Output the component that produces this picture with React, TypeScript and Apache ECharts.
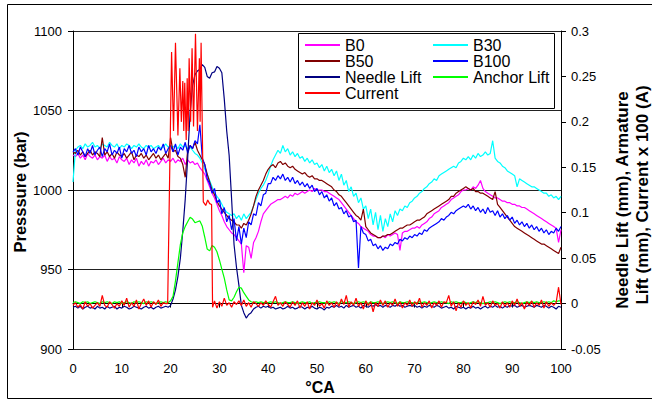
import React, { useEffect, useRef } from "react";
import * as echarts from "echarts";

// Crank angle step of the sampled series (°CA)
const STEP = 0.5;

// Pressure series (bar), one value every 0.5 °CA from 0 to 100
const b0 = [
  1022, 1021, 1023, 1020, 1022, 1019, 1023, 1021, 1020, 1022,
  1019, 1021, 1020, 1022, 1018, 1021, 1019, 1020, 1017, 1021,
  1019, 1018, 1020, 1016, 1019, 1017, 1020, 1015, 1018, 1016,
  1019, 1015, 1018, 1017, 1019, 1016, 1018, 1020, 1017, 1019,
  1018, 1020, 1017, 1019, 1018, 1020, 1016, 1019, 1017, 1018,
  1016, 1017, 1014, 1012, 1010, 1006, 1002, 998, 995, 991,
  987, 984, 980, 977, 975, 973, 972, 970, 968, 966,
  948, 965, 964, 957, 967, 970, 974, 980, 985, 987,
  989, 991, 992, 993, 994, 994, 995, 996, 995, 997,
  996, 998, 997, 998, 999, 998, 999, 1000, 999, 1001,
  1000, 1000, 1000, 999, 999, 998, 997, 996, 995, 994,
  992, 990, 988, 986, 984, 982, 980, 979, 977, 976,
  975, 974, 972, 971, 971, 970, 970, 971, 970, 972,
  971, 972, 973, 972, 962, 973, 974, 974, 975, 976,
  976, 977, 976, 978, 979, 980, 982, 983, 985, 986,
  987, 989, 990, 991, 992, 994, 995, 996, 997, 999,
  1000, 1000, 1001, 1000, 1002, 1001, 1003, 1006, 1001, 999,
  998, 997, 996, 995, 995, 994, 993, 993, 992, 992,
  991, 991, 990, 990, 989, 989, 988, 987, 986, 985,
  984, 983, 982, 981, 980, 979, 978, 977, 976, 967,
  975,
];

const b30 = [
  1005, 1025, 1027, 1028, 1026, 1029, 1027, 1028, 1030, 1027,
  1028, 1026, 1029, 1028, 1027, 1030, 1028, 1027, 1029, 1026,
  1028, 1027, 1029, 1028, 1026, 1028, 1027, 1029, 1027, 1026,
  1028, 1027, 1028, 1026, 1027, 1028, 1026, 1027, 1029, 1027,
  1028, 1027, 1028, 1026, 1029, 1027, 1028, 1026, 1027, 1025,
  1023, 1022, 1020, 1017, 1013, 1010, 1006, 1002, 998, 996,
  994, 991, 988, 986, 985, 984, 985, 982, 984, 981,
  985, 982, 984, 986, 990, 994, 998, 1001, 1003, 1006,
  1010, 1015, 1019, 1022, 1025, 1023, 1028, 1024, 1026, 1022,
  1024, 1021, 1023, 1020, 1021, 1018, 1020, 1017, 1019, 1016,
  1017, 1014, 1016, 1012, 1015, 1011, 1013, 1009, 1012, 1006,
  1010, 1003, 1006, 999, 1002, 996, 998, 992, 995, 988,
  990, 982, 988, 978, 986, 975, 984, 974, 982, 977,
  985, 980, 987, 984, 988, 987, 990, 989, 992, 993,
  995, 996, 998, 999, 1001, 1002, 1004, 1005, 1007, 1006,
  1009, 1010, 1011, 1012, 1013, 1014, 1015, 1014, 1017, 1018,
  1020, 1019, 1021, 1019, 1022, 1020, 1023, 1021, 1022, 1024,
  1022, 1023, 1031, 1020, 1018, 1017, 1015, 1014, 1012, 1011,
  1010, 1009, 1002, 1007, 1006, 1005, 1004, 1003, 1002, 1002,
  1001, 1000, 999, 998, 998, 996, 997, 995, 996, 994,
  996,
];

const b50 = [
  1024, 1023, 1025, 1022, 1024, 1021, 1023, 1025, 1022, 1024,
  1023, 1021, 1033, 1022, 1024, 1021, 1023, 1020, 1024, 1022,
  1021, 1023, 1020, 1022, 1024, 1019, 1022, 1021, 1023, 1020,
  1022, 1019, 1021, 1023, 1020, 1022, 1019, 1021, 1023, 1020,
  1033, 1024, 1025, 1021, 1020, 1016, 1008, 1025, 1028, 1026,
  1030, 1025, 1022, 1019, 1016, 1010, 1005, 1000, 997, 993,
  990, 988, 986, 984, 982, 981, 980, 978, 978, 976,
  979, 978, 981, 985, 990, 996, 1000, 1003, 1006, 1010,
  1013, 1015, 1016, 1014, 1017, 1018, 1016, 1017, 1015, 1014,
  1015, 1013, 1012, 1011, 1010, 1011, 1009, 1008, 1009, 1007,
  1007, 1006, 1006, 1005, 1004, 1003, 1002, 1000, 999, 997,
  996, 994, 992, 990, 988, 986, 984, 983, 981, 988,
  977, 975, 973, 972, 971, 970, 970, 971, 971, 972,
  972, 973, 974, 975, 976, 976, 977, 978, 978, 979,
  980, 981, 981, 982, 983, 985, 986, 987, 988, 989,
  990, 991, 992, 993, 994, 996, 996, 998, 999, 1000,
  1001, 1002, 1001, 1000, 1001, 999, 999, 998, 998, 997,
  996, 995, 994, 999, 991, 989, 987, 985, 983, 981,
  979, 977, 976, 975, 974, 973, 972, 971, 970, 969,
  968, 967, 966, 966, 965, 964, 963, 962, 961, 960,
  964,
];

const b100 = [
  1024, 1026, 1022, 1027, 1024, 1021, 1026, 1023, 1028, 1022,
  1025, 1027, 1021, 1026, 1024, 1029, 1022, 1025, 1023, 1027,
  1020, 1026, 1024, 1028, 1023, 1025, 1021, 1027, 1024, 1026,
  1022, 1028, 1024, 1026, 1023, 1027, 1025, 1029, 1023, 1026,
  1028, 1024, 1029, 1022, 1027, 1025, 1030, 1023, 1028, 1026,
  1031, 1029, 1041, 1020, 1016, 1007, 1004, 998, 1001, 992,
  994, 985, 989, 980, 984, 975, 982, 968, 977, 966,
  976, 970, 980, 978, 985, 984, 992, 990, 997, 998,
  1004, 1004, 1008, 1006, 1009, 1007, 1010, 1006, 1008, 1005,
  1008, 1004, 1006, 1003, 1005, 1002, 1004, 1001, 1003, 999,
  1001, 997, 999, 995, 997, 993, 995, 990, 992, 988,
  989, 985, 987, 983, 984, 980, 981, 951, 977, 973,
  972, 968, 969, 965, 966, 963, 965, 962, 964, 963,
  966, 965, 967, 966, 969, 968, 970, 969, 971, 970,
  972, 971, 973, 972, 975, 974, 976, 977, 978, 979,
  980, 982, 981, 983, 984, 986, 985, 987, 988, 989,
  990, 989, 991, 988, 990, 987, 989, 986, 988, 985,
  989, 986, 987, 984, 987, 983, 985, 982, 984, 981,
  983, 979, 981, 978, 980, 977, 979, 976, 978, 975,
  977, 974, 976, 973, 975, 972, 974, 973, 976, 974,
  977,
];

// Secondary axis series (mm / A x 100), one value every 0.5 °CA
const needleLift = [
  -0.004, -0.003, -0.005, -0.003, -0.006, -0.004, -0.003, -0.005, -0.004, -0.006,
  -0.003, -0.005, -0.004, -0.006, -0.003, -0.005, -0.004, -0.003, -0.006, -0.004,
  -0.005, -0.003, -0.004, -0.006, -0.005, -0.003, -0.004, -0.005, -0.006, -0.004,
  -0.003, -0.005, -0.004, -0.006, -0.004, -0.003, -0.005, -0.004, -0.003, -0.004,
  -0.002, 0.005, 0.015, 0.03, 0.05, 0.08, 0.115, 0.16, 0.21, 0.24,
  0.252, 0.256, 0.258, 0.263, 0.26, 0.25, 0.248, 0.254, 0.255, 0.261,
  0.259, 0.254, 0.225, 0.19, 0.163, 0.115, 0.065, 0.04, 0.02, -0.002,
  -0.01, -0.016, -0.012, -0.01, -0.006, -0.004, -0.003, -0.005, -0.003, -0.004,
  -0.003, -0.005, -0.004, -0.006, -0.005, -0.004, -0.006, -0.005, -0.003, -0.005,
  -0.004, -0.006, -0.005, -0.003, -0.004, -0.006, -0.004, -0.005, -0.003, -0.005,
  -0.006, -0.004, -0.005, -0.007, -0.004, -0.005, -0.003, -0.004, -0.002, -0.004,
  -0.003, -0.005, -0.002, -0.004, -0.003, -0.002, -0.004, -0.003, -0.005, -0.002,
  -0.003, -0.004, -0.002, -0.003, -0.001, -0.003, -0.002, -0.004, -0.002, -0.003,
  -0.004, -0.002, -0.003, -0.001, -0.003, -0.002, -0.004, -0.003, -0.002, -0.003,
  -0.002, -0.004, -0.003, -0.005, -0.003, -0.004, -0.002, -0.003, -0.004, -0.002,
  -0.003, -0.005, -0.004, -0.003, -0.005, -0.004, -0.006, -0.003, -0.004, -0.005,
  -0.004, -0.006, -0.004, -0.005, -0.003, -0.005, -0.004, -0.006, -0.004, -0.003,
  -0.005, -0.003, -0.004, -0.002, -0.004, -0.003, -0.005, -0.003, -0.004, -0.002,
  -0.003, -0.002, -0.004, -0.003, -0.002, -0.004, -0.003, -0.002, -0.003, -0.004,
  -0.002, -0.003, -0.004, -0.002, -0.003, -0.005, -0.003, -0.004, -0.006, -0.003,
  -0.004,
];

const anchorLift = [
  0.001, 0.002, 0.001, 0.0, 0.002, 0.001, 0.002, 0.0, 0.001, 0.002,
  0.001, 0.0, 0.002, 0.001, 0.002, 0.001, 0.0, 0.002, 0.001, 0.002,
  0.0, 0.001, 0.002, 0.001, 0.0, 0.002, 0.001, 0.002, 0.001, 0.0,
  0.002, 0.001, 0.002, 0.001, 0.0, 0.001, 0.002, 0.001, 0.002, 0.001,
  0.003, 0.008, 0.025, 0.045, 0.065, 0.078, 0.085, 0.09, 0.095, 0.093,
  0.089, 0.09, 0.091, 0.085, 0.073, 0.06, 0.058, 0.064, 0.062, 0.057,
  0.048, 0.038, 0.028, 0.015, 0.004, 0.003, 0.007, 0.013, 0.018, 0.017,
  0.012, 0.008, 0.004, 0.002, 0.001, 0.002, 0.001, 0.002, 0.001, 0.001,
  0.001, 0.002, 0.001, 0.002, 0.001, 0.0, 0.001, 0.002, 0.001, 0.001,
  0.002, 0.001, 0.0, 0.001, 0.002, 0.001, 0.001, 0.002, 0.0, 0.001,
  0.001, 0.002, 0.001, 0.001, 0.0, 0.002, 0.001, 0.002, 0.001, 0.0,
  0.002, 0.001, 0.001, 0.002, 0.001, 0.0, 0.001, 0.002, 0.001, 0.002,
  0.001, 0.0, 0.002, 0.001, 0.001, 0.002, 0.001, 0.0, 0.001, 0.002,
  0.001, 0.002, 0.001, 0.0, 0.002, 0.001, 0.001, 0.002, 0.001, 0.001,
  0.0, 0.001, 0.002, 0.001, 0.002, 0.001, 0.0, 0.001, 0.002, 0.001,
  0.001, 0.002, 0.001, 0.001, 0.0, 0.002, 0.001, 0.002, 0.001, 0.001,
  0.002, 0.001, 0.0, 0.001, 0.002, 0.001, 0.002, 0.001, 0.0, 0.001,
  0.001, 0.002, 0.001, 0.002, 0.001, 0.0, 0.001, 0.002, 0.001, 0.002,
  0.001, 0.001, 0.002, 0.001, 0.0, 0.001, 0.002, 0.001, 0.002, 0.001,
  0.002, 0.001, 0.001, 0.002, 0.001, 0.002, 0.001, 0.003, 0.002, 0.003,
  0.003,
];

// Current: baseline before the pulse (0 .. 19 °CA, every 0.5)
const currentBefore = [
  -0.002, 0.001, -0.004, -0.001, -0.006, 0.002, -0.003, 0.0, -0.005, -0.002,
  0.001, -0.003, 0.009, -0.002, -0.004, 0.002, -0.001, -0.005, 0.0, -0.003,
  0.003, -0.002, 0.006, -0.004, 0.001, -0.003, 0.004, -0.006, 0.0, 0.005,
  -0.002, 0.003, -0.004, 0.002, -0.001, 0.004, -0.003, 0.001, 0.0,
];
// Current pulse: [°CA, value]
const currentPulse = [
  [19.4, 0.0], [20.2, 0.277], [20.6, 0.19], [21.0, 0.287], [21.5, 0.185],
  [21.9, 0.259], [22.2, 0.2], [22.5, 0.245], [22.7, 0.19], [22.9, 0.243],
  [23.2, 0.18], [23.4, 0.248], [23.6, 0.19], [23.8, 0.27], [24.1, 0.2],
  [24.4, 0.281], [24.7, 0.195], [25.1, 0.297], [25.5, 0.19], [25.9, 0.27],
  [26.05, 0.2], [26.25, 0.287], [26.7, 0.112], [27.2, 0.108], [27.6, 0.114],
  [28.0, 0.11], [28.4, 0.109], [28.6, -0.004],
];
// Current: baseline after the pulse (29 .. 100 °CA, every 0.5)
const currentAfter = [
  0.003, -0.005, 0.002, -0.003, 0.006, -0.002, 0.001, -0.004, 0.002, -0.001,
  0.003, -0.002, 0.004, -0.003, 0.001, -0.004, 0.002, 0.0, -0.003, 0.001,
  -0.002, 0.003, -0.001, -0.004, 0.002, 0.008, -0.002, 0.001, -0.003, 0.002,
  -0.001, -0.004, 0.002, -0.002, 0.003, -0.005, 0.001, -0.003, 0.002, -0.006,
  0.001, -0.002, 0.004, -0.003, 0.0, -0.005, 0.003, -0.002, 0.001, -0.004,
  0.002, -0.003, 0.005, -0.001, 0.009, -0.004, 0.002, -0.002, 0.006, -0.003,
  0.001, -0.006, 0.003, -0.002, 0.002, -0.009, 0.001, -0.003, 0.004, -0.002,
  0.003, -0.004, 0.001, -0.002, 0.005, -0.003, 0.002, -0.005, 0.001, -0.002,
  0.004, -0.003, 0.002, -0.001, 0.006, -0.004, 0.001, -0.002, 0.003, -0.005,
  0.001, -0.002, 0.003, -0.004, 0.002, 0.001, 0.009, -0.003, 0.002, -0.008,
  0.001, -0.004, 0.003, -0.002, 0.001, -0.005, 0.002, -0.001, 0.004, -0.003,
  0.008, -0.002, 0.001, -0.004, 0.003, -0.002, 0.0, -0.005, 0.002, -0.003,
  0.001, -0.004, 0.003, -0.002, 0.005, -0.003, 0.001, -0.006, 0.002, -0.002,
  0.003, -0.004, 0.001, -0.002, 0.004, -0.005, 0.002, -0.003, 0.001, -0.002,
  0.001, 0.018, -0.001,
];

const xTicks = { min: 0, max: 100, interval: 10 };
const pressureTicks = { min: 900, max: 1100, interval: 50 };
const liftTicks = { min: -0.05, max: 0.3, interval: 0.05 };

const FONT = '"Liberation Sans", Arial, Helvetica, sans-serif';

const toPairs = (vals: number[], start: number) =>
  vals.map((v, i) => [start + i * STEP, v]);

const seriesDefs = [
  { name: "B0", color: "#FF00FF", data: toPairs(b0, 0), axis: 0 },
  { name: "B30", color: "#00FFFF", data: toPairs(b30, 0), axis: 0 },
  { name: "B50", color: "#800000", data: toPairs(b50, 0), axis: 0 },
  { name: "B100", color: "#0000FF", data: toPairs(b100, 0), axis: 0 },
  { name: "Needle Lift", color: "#000080", data: toPairs(needleLift, 0), axis: 1 },
  { name: "Anchor Lift", color: "#00FF00", data: toPairs(anchorLift, 0), axis: 1 },
  {
    name: "Current",
    color: "#FF0000",
    data: [...toPairs(currentBefore, 0), ...currentPulse, ...toPairs(currentAfter, 29)],
    axis: 1,
  },
];

export default function App() {
  const ref = useRef<HTMLDivElement>(null);

  useEffect(() => {
    if (!ref.current) return;
    const chart = echarts.init(ref.current, null, { renderer: "svg" });

    const legendCommon = {
      orient: "vertical" as const,
      top: 37,
      padding: 0,
      itemGap: 0,
      itemWidth: 35,
      itemHeight: 2,
      itemTextGap: 5,
      icon: "rect",
      selectedMode: false,
      z: 10,
      textStyle: { fontSize: 16, fontFamily: FONT, color: "#000", lineHeight: 16 },
    };

    const axisLabel = { fontSize: 13, fontFamily: FONT, color: "#000" };

    chart.setOption({
      animation: false,
      backgroundColor: "#fff",
      grid: { left: 73, right: 91, top: 31, bottom: 52, containLabel: false },
      xAxis: {
        type: "value",
        ...xTicks,
        axisLine: { show: true, lineStyle: { color: "#000", width: 1 } },
        axisTick: { show: true, length: 4, lineStyle: { color: "#000" } },
        axisLabel: { ...axisLabel, margin: 13, formatter: (v: number) => String(v) },
        splitLine: { show: false },
      },
      yAxis: [
        {
          type: "value",
          ...pressureTicks,
          axisLine: { show: true, lineStyle: { color: "#000", width: 1 } },
          axisTick: { show: true, length: 5, lineStyle: { color: "#000" } },
          axisLabel: { ...axisLabel, margin: 11, formatter: (v: number) => String(v) },
          splitLine: { show: true, lineStyle: { color: "#222", width: 1 } },
        },
        {
          type: "value",
          position: "right",
          ...liftTicks,
          axisLine: { show: true, lineStyle: { color: "#000", width: 1 } },
          axisTick: { show: true, length: 5, lineStyle: { color: "#000" } },
          axisLabel: {
            ...axisLabel,
            margin: 10,
            formatter: (v: number) => String(+v.toFixed(2)),
          },
          splitLine: { show: false },
        },
      ],
      legend: [
        { ...legendCommon, left: 305, data: ["B0", "B50", "Needle Lift", "Current"] },
        { ...legendCommon, left: 433, data: ["B30", "B100", "Anchor Lift"] },
      ],
      graphic: [
        {
          type: "rect",
          z: 0,
          silent: true,
          shape: { x: 7.5, y: 4.5, width: 700, height: 394 },
          style: { fill: "none", stroke: "#000", lineWidth: 1 },
        },
        {
          type: "rect",
          z: 5,
          silent: true,
          shape: { x: 298.5, y: 33.5, width: 256, height: 75 },
          style: { fill: "#fff", stroke: "#000", lineWidth: 1 },
        },
        {
          type: "text",
          x: 20,
          y: 192,
          rotation: Math.PI / 2,
          style: {
            text: "Presssure (bar)",
            fontSize: 16.5,
            fontWeight: "bold",
            fontFamily: FONT,
            fill: "#000",
            align: "center",
            verticalAlign: "middle",
          },
        },
        {
          type: "text",
          x: 622,
          y: 200,
          rotation: Math.PI / 2,
          style: {
            text: "Needle Lift (mm), Armature",
            fontSize: 17,
            fontWeight: "bold",
            fontFamily: FONT,
            fill: "#000",
            align: "center",
            verticalAlign: "middle",
          },
        },
        {
          type: "text",
          x: 642,
          y: 195,
          rotation: Math.PI / 2,
          style: {
            text: "Lift (mm), Current x 100 (A)",
            fontSize: 17,
            fontWeight: "bold",
            fontFamily: FONT,
            fill: "#000",
            align: "center",
            verticalAlign: "middle",
          },
        },
        {
          type: "text",
          x: 320,
          y: 387,
          style: {
            text: "°CA",
            fontSize: 16,
            fontWeight: "bold",
            fontFamily: FONT,
            fill: "#000",
            align: "center",
            verticalAlign: "middle",
          },
        },
      ],
      series: seriesDefs.map((s) => ({
        name: s.name,
        type: "line",
        yAxisIndex: s.axis,
        data: s.data,
        showSymbol: false,
        symbol: "none",
        color: s.color,
        lineStyle: { color: s.color, width: 1.2 },
        emphasis: { disabled: true },
      })),
    });

    return () => chart.dispose();
  }, []);

  return (
    <div
      ref={ref}
      style={{ position: "absolute", left: 0, top: 0, width: 652, height: 401, background: "#fff" }}
    />
  );
}
